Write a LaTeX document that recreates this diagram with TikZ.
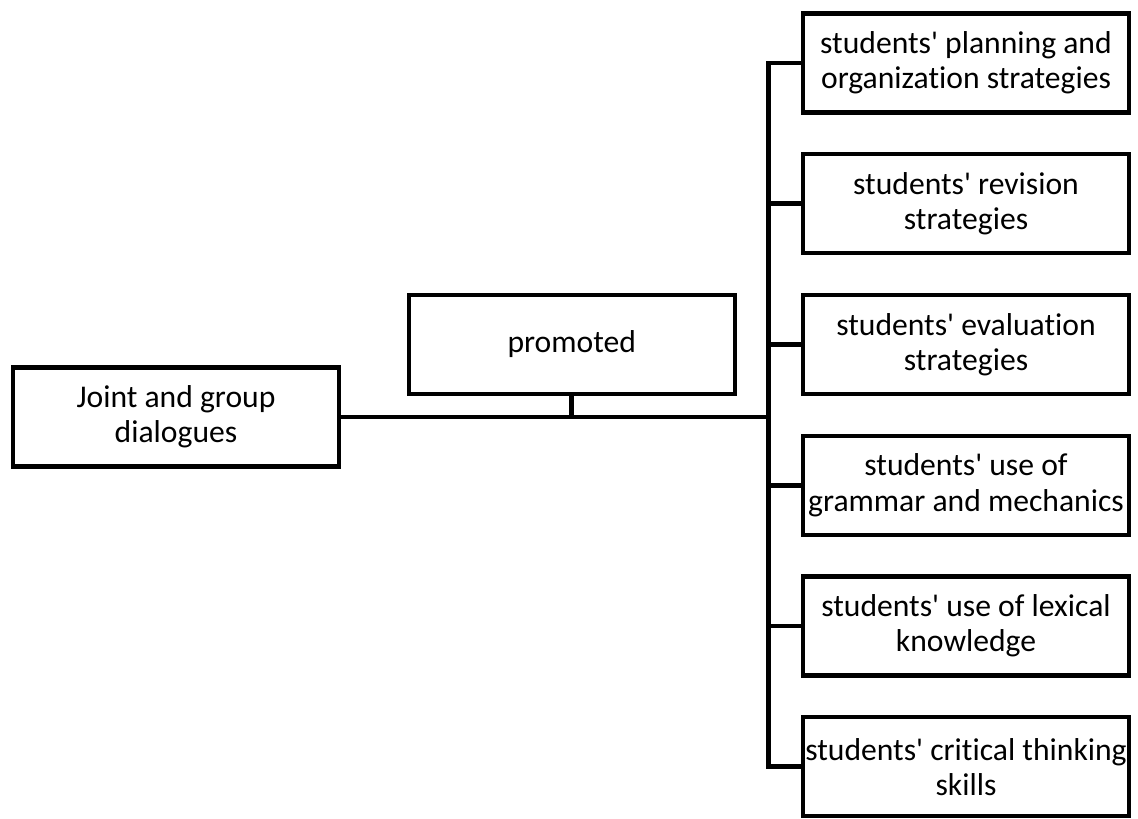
\documentclass[tikz,border=0pt]{standalone}
\usepackage{fontspec}
\setmainfont{Carlito}[Ligatures=NoCommon]
\usetikzlibrary{positioning}

\newcommand{\apos}{\textquotesingle}

\tikzset{
  box/.style={draw, line width=0.085cm, minimum width=6.52cm, minimum height=1.98cm,
              align=center, inner sep=0.5pt, font=\fontsize{18pt}{20pt}\selectfont},
  link/.style={line width=0.095cm}
}

\begin{document}
\begin{tikzpicture}[node distance=0.75cm]
        \useasboundingbox (0,0) rectangle (22.76,-16.36);
        \node[box] (s1) at (19.32,-1.26)    {students\apos{} planning and\\organization strategies};
        \node[box] (s2) [below=of s1]       {students\apos{} revision\\strategies};
        \node[box] (s3) [below=of s2]       {students\apos{} evaluation\\strategies};
        \node[box] (s4) [below=of s3]       {students\apos{} use of\\grammar and mechanics};
        \node[box] (s5) [below=of s4]       {students\apos{} use of lexical\\knowledge};
        \node[box] (s6) [below=of s5]       {students\apos{} critical thinking\\skills};
        \node[box] (promo) [left=1.28cm of s3] {promoted};
        \node[box] (joint) at (3.52,-8.34)  {Joint and group\\dialogues};
        \coordinate (trunk) at (15.37,-8.34);
        \draw[link] (joint.east) -- (trunk);
        \draw[link] (promo.south) -- (promo.south |- trunk);
        \draw[link] (s1.west) -| (trunk) |- (s6.west);
        \foreach \i in {2,...,5}
          \draw[link] (s\i.west) -- (s\i.west -| trunk);
      \end{tikzpicture}
\end{document}
